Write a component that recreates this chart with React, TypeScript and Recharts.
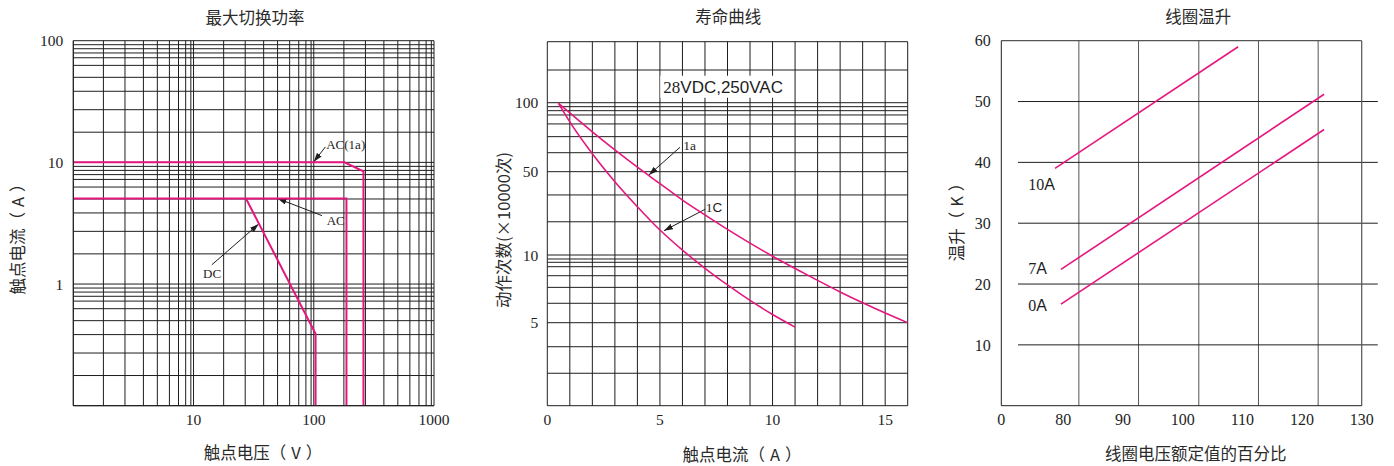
import React from 'react';
import { LineChart, Line, XAxis, YAxis, ReferenceLine, ReferenceDot } from 'recharts';

const PINK = '#e5177f';
const INK = '#1e1e1e';
const GRAY = '#555';
const SERIF = '"Liberation Serif", "DejaVu Serif", serif';
const SANS = '"Liberation Sans", Arial, sans-serif';
const CJK = '"Noto Sans CJK SC", "Noto Sans", sans-serif';

// ---------- Panel 1: 最大切换功率 ----------
const p1Title = '最大切换功率';
const p1XTitle = ['触点电压', 'V'];
const p1YTitle = ['触点电流', 'A'];
const p1XTicks = [10, 100, 1000];
const p1YTicks = [1, 10, 100];
const p1XDecades = [1, 10, 100, 1000];
const p1YDecades = [0.1, 1, 10, 100];
const p1XGridSteps = [1.78, 2.69, 3.83, 5.0, 6.3, 7.5, 8.6, 9.5];
const p1YGridSteps = [1.77, 2.71, 3.84, 5.0, 6.27, 7.24, 7.93, 8.59, 9.27];
const acOneAVolt = [1, 180, 259, 259];
const acOneAAmp = [10, 10, 8.45, 0.1];
const acVolt = [1, 187, 187];
const acAmp = [5.05, 5.05, 0.1];
const dcVolt = [27.3, 103.5, 103.5];
const dcAmp = [5.05, 0.39, 0.1];
const p1Notes = [
  { text: 'AC(1a)', lx: 127, ly: 14, fx: 125, fy: 13.4, tx: 100, ty: 10.1 },
  { text: 'AC', lx: 128, ly: 3.35, fx: 117, fy: 3.65, tx: 50, ty: 5.05 },
  { text: 'DC', lx: 12, ly: 1.23, fx: 14.2, fy: 1.44, tx: 34.8, ty: 3.11 },
];

// ---------- Panel 2: 寿命曲线 ----------
const p2Title = '寿命曲线';
const p2XTitle = ['触点电流', 'A'];
const p2YTitle = '动作次数(×10000次)';
const p2XTicks = [0, 5, 10, 15];
const p2XGrid = [1, 2, 3, 4, 5, 6, 7, 8, 9, 10, 11, 12, 13, 14, 15, 16];
const lifeLabelValues = [5, 10, 50, 100];
const lifeLabelHeights = [0.228, 0.414, 0.6429, 0.8324]; // where each labelled value sits on the (non-uniform) printed axis
const lifeGridValues = [2.98, 3.91, 5, 6.1, 7.18, 8.09, 8.87, 9.28, 9.6, 10, 19, 31.9, 50, 60.5, 71.1, 80.8, 88.4, 92.3, 96.1, 100, 138.9];
const life1aCurrent = [0.5, 1.0, 2.0, 3.0, 4.0, 5.0, 6.0, 7.0, 8.0, 9.0, 10.0, 11.0, 12.0, 13.0, 14.0, 15.0, 16.0];
const life1aCycles = [99.4, 90.2, 74.6, 62.2, 52.3, 39.7, 28.9, 21.7, 16.4, 12.57, 9.88, 8.71, 7.71, 6.85, 6.13, 5.52, 5.0];
const life1cCurrent = [0.5, 1.0, 1.9, 3.0, 4.0, 5.0, 6.0, 7.0, 8.0, 9.0, 10.0, 11.0];
const life1cCycles = [99.4, 82.5, 61.7, 41.2, 25.4, 16.2, 11.0, 8.73, 7.36, 6.28, 5.44, 4.78];
const p2Notes = [
  { text: ['1', 'a'], lx: 6.04, ly: 65.3, fx: 5.89, fy: 63.9, tx: 4.51, ty: 46.9 },
  { text: ['1', 'C'], lx: 7.03, ly: 25.4, fx: 7.01, fy: 24.2, tx: 5.18, ty: 16.0 },
];
const p2Condition = { serif: '28', sans: 'VDC,250VAC', x: 5.15, y: 117.4 };

// ---------- Panel 3: 线圈温升 ----------
const p3Title = '线圈温升';
const p3XTitle = '线圈电压额定值的百分比';
const p3YTitle = ['温升', 'K'];
const p3XMin = 69.6;
const p3XTicks = [69.6, 80, 90, 100, 110, 120, 130];
const p3YTicks = [10, 20, 30, 40, 50, 60];
const p3VGrid = [82.6, 92.6, 102.7, 112.7, 122.7];
const p3HGrid = [10, 20, 30, 40, 50];
const p3HGridFrom = 72.4;
const p3HGridTo = 132.7;
const heat10APct = [78.6, 109.3];
const heat10ARise = [39, 59];
const heat7APct = [79.6, 123.7];
const heat7ARise = [22.4, 51.2];
const heat0APct = [79.6, 123.7];
const heat0ARise = [16.7, 45.4];
const p3Labels = [
  { num: '10', x: 74.1, y: 36.4 },
  { num: '7', x: 74.1, y: 22.6 },
  { num: '0', x: 74.1, y: 16.55 },
];

// ---------- helpers ----------
const zip = (xs: number[], ys: number[]) => xs.map((x, i) => ({ x, y: ys[i] }));

const toT = (v: number) => {
  const L = Math.log10;
  const i = v <= 10 ? 0 : v <= 50 ? 1 : 2;
  const v0 = lifeLabelValues[i], v1 = lifeLabelValues[i + 1];
  const t0 = lifeLabelHeights[i], t1 = lifeLabelHeights[i + 1];
  return t0 + ((t1 - t0) * (L(v) - L(v0))) / (L(v1) - L(v0));
};
const zipT = (xs: number[], ys: number[]) => xs.map((x, i) => ({ x, y: toT(ys[i]) }));

const p1XGrid = p1XDecades.slice(0, -1).flatMap((d) => [d, ...p1XGridSteps.map((s) => s * d)]).concat([1000]);
const p1YGrid = p1YDecades.slice(0, -1).flatMap((d) => [d, ...p1YGridSteps.map((s) => s * d)]).concat([100]);

const HtmlText = ({ x, y, text, rotate = false, size = 16.5 }: any) => (
  <div
    style={{
      position: 'absolute',
      left: x,
      top: y,
      transform: `translate(-50%, -50%)${rotate ? ' rotate(-90deg)' : ''}`,
      whiteSpace: 'nowrap',
      fontFamily: CJK,
      fontSize: size,
      lineHeight: 1,
      color: '#2a2a2a',
    }}
  >
    {Array.isArray(text) ? (
      <>
        {text[0]}（<span style={{ margin: '0 5px' }}>{text[1]}</span>）
      </>
    ) : (
      text
    )}
  </div>
);

const arrowShape = (p: any) => (
  <line x1={p.x1} y1={p.y1} x2={p.x2} y2={p.y2} stroke={INK} strokeWidth={1} markerEnd="url(#arrowHead)" />
);

const tickStyle = (size: number) => ({ fontFamily: SERIF, fontSize: size, fill: INK });

const Panel1 = () => (
  <div style={{ position: 'absolute', left: 0, top: 0 }}>
    <LineChart width={470} height={466} margin={{ top: 40.7, right: 36, bottom: 0, left: 0 }}>
      <XAxis type="number" dataKey="x" scale="log" domain={[1, 1000]} allowDataOverflow ticks={p1XTicks} interval={0}
        height={60.3} tickLine={false} tickSize={0} tickMargin={8} axisLine={{ stroke: INK }} tick={tickStyle(15.5)} />
      <YAxis type="number" dataKey="y" scale="log" domain={[0.1, 100]} allowDataOverflow ticks={p1YTicks} interval={0}
        width={73.3} tickLine={false} tickSize={0} tickMargin={10} axisLine={{ stroke: INK }} tick={tickStyle(15.5)} />
      {p1XGrid.map((v) => (
        <ReferenceLine key={'vx' + v} x={v} stroke={INK} strokeWidth={1} ifOverflow="visible" />
      ))}
      {p1YGrid.map((v) => (
        <ReferenceLine key={'hy' + v} y={v} stroke={INK} strokeWidth={1} ifOverflow="visible" />
      ))}
      {p1Notes.map((n) => (
        <ReferenceLine key={'ar' + n.text} segment={[{ x: n.fx, y: n.fy }, { x: n.tx, y: n.ty }]} ifOverflow="visible" shape={arrowShape} />
      ))}
      {p1Notes.map((n) => (
        <ReferenceDot key={'lb' + n.text} x={n.lx} y={n.ly} r={0} ifOverflow="visible"
          shape={(p: any) => (
            <text x={p.cx} y={p.cy} dominantBaseline="central" fontFamily={SERIF} fontSize={13} fill={INK}>{n.text}</text>
          )} />
      ))}
      <Line data={zip(acOneAVolt, acOneAAmp)} dataKey="y" type="linear" stroke={PINK} strokeWidth={2} dot={false} isAnimationActive={false} />
      <Line data={zip(acVolt, acAmp)} dataKey="y" type="linear" stroke={PINK} strokeWidth={2} dot={false} isAnimationActive={false} />
      <Line data={zip(dcVolt, dcAmp)} dataKey="y" type="linear" stroke={PINK} strokeWidth={2} dot={false} isAnimationActive={false} />
    </LineChart>
  </div>
);

const Panel2 = () => (
  <div style={{ position: 'absolute', left: 490, top: 0 }}>
    <LineChart width={440} height={466} margin={{ top: 41.7, right: 22.3, bottom: 0, left: 0 }}>
      <XAxis type="number" dataKey="x" domain={[0, 16]} allowDataOverflow ticks={p2XTicks} interval={0}
        height={60.3} tickLine={false} tickSize={0} tickMargin={8} axisLine={{ stroke: INK }} tick={tickStyle(15.5)} />
      <YAxis type="number" dataKey="y" domain={[0, 1]} allowDataOverflow ticks={lifeLabelValues.map(toT)} interval={0}
        tickFormatter={(v: number) => {
          const i = lifeLabelValues.findIndex((l) => Math.abs(toT(l) - v) < 1e-6);
          return i >= 0 ? String(lifeLabelValues[i]) : '';
        }}
        width={57.3} tickLine={false} tickSize={0} tickMargin={9} axisLine={{ stroke: INK }} tick={tickStyle(15.5)} />
      {p2XGrid.map((v) => (
        <ReferenceLine key={'vx' + v} x={v} stroke={INK} strokeWidth={1} ifOverflow="visible" />
      ))}
      {lifeGridValues.map((v) => (
        <ReferenceLine key={'hy' + v} y={toT(v)} stroke={INK} strokeWidth={1} ifOverflow="visible" />
      ))}
      <ReferenceLine y={1} stroke={INK} strokeWidth={1} ifOverflow="visible" />
      <ReferenceDot x={p2Condition.x} y={toT(p2Condition.y)} r={0} ifOverflow="visible"
        shape={(p: any) => (
          <g>
            <rect x={p.cx - 3} y={p.cy - 11} width={128} height={22} fill="#fff" />
            <text x={p.cx} y={p.cy} dominantBaseline="central" fontSize={17} fill={INK}>
              <tspan fontFamily={SERIF}>{p2Condition.serif}</tspan>
              <tspan fontFamily={SANS}>{p2Condition.sans}</tspan>
            </text>
          </g>
        )} />
      {p2Notes.map((n) => (
        <ReferenceLine key={'ar' + n.text.join('')} segment={[{ x: n.fx, y: toT(n.fy) }, { x: n.tx, y: toT(n.ty) }]} ifOverflow="visible" shape={arrowShape} />
      ))}
      {p2Notes.map((n) => (
        <ReferenceDot key={'lb' + n.text.join('')} x={n.lx} y={toT(n.ly)} r={0} ifOverflow="visible"
          shape={(p: any) => (
            <text x={p.cx} y={p.cy} dominantBaseline="central" fontSize={13.5} fill={INK}>
              <tspan fontFamily={SERIF}>{n.text[0]}</tspan>
              <tspan fontFamily={n.text[1] === 'C' ? SANS : SERIF}>{n.text[1]}</tspan>
            </text>
          )} />
      ))}
      <Line data={zipT(life1aCurrent, life1aCycles)} dataKey="y" type="monotone" stroke={PINK} strokeWidth={1.6} dot={false} isAnimationActive={false} />
      <Line data={zipT(life1cCurrent, life1cCycles)} dataKey="y" type="monotone" stroke={PINK} strokeWidth={1.6} dot={false} isAnimationActive={false} />
    </LineChart>
  </div>
);

const Panel3 = () => (
  <div style={{ position: 'absolute', left: 940, top: 0 }}>
    <LineChart width={454} height={466} margin={{ top: 40.7, right: 32.3, bottom: 0, left: 0 }}>
      <XAxis type="number" dataKey="x" domain={[p3XMin, 130]} allowDataOverflow ticks={p3XTicks} interval={0}
        tickFormatter={(v: number) => (v === p3XMin ? '0' : String(v))}
        height={60.3} tickLine={false} tickSize={0} tickMargin={8} axisLine={{ stroke: INK }} tick={tickStyle(16)} />
      <YAxis type="number" dataKey="y" domain={[0, 60]} allowDataOverflow ticks={p3YTicks} interval={0}
        width={61.3} tickLine={false} tickSize={0} tickMargin={10.5} axisLine={{ stroke: INK }} tick={tickStyle(16)} />
      {p3VGrid.map((v) => (
        <ReferenceLine key={'vx' + v} x={v} stroke={GRAY} strokeWidth={1} ifOverflow="visible" />
      ))}
      {p3HGrid.map((v) => (
        <ReferenceLine key={'hy' + v} segment={[{ x: p3HGridFrom, y: v }, { x: p3HGridTo, y: v }]} stroke={INK} strokeWidth={1} ifOverflow="visible" />
      ))}
      <ReferenceLine y={60} stroke={GRAY} strokeWidth={1.2} ifOverflow="visible" />
      <ReferenceLine x={130} stroke={GRAY} strokeWidth={1.2} ifOverflow="visible" />
      {p3Labels.map((l) => (
        <ReferenceDot key={'lb' + l.num} x={l.x} y={l.y} r={0} ifOverflow="visible"
          shape={(p: any) => (
            <text x={p.cx} y={p.cy} dominantBaseline="central" fontSize={16} fill={INK}>
              <tspan fontFamily={SERIF}>{l.num}</tspan>
              <tspan fontFamily={SANS}>A</tspan>
            </text>
          )} />
      ))}
      <Line data={zip(heat10APct, heat10ARise)} dataKey="y" type="linear" stroke={PINK} strokeWidth={1.6} dot={false} isAnimationActive={false} />
      <Line data={zip(heat7APct, heat7ARise)} dataKey="y" type="linear" stroke={PINK} strokeWidth={1.6} dot={false} isAnimationActive={false} />
      <Line data={zip(heat0APct, heat0ARise)} dataKey="y" type="linear" stroke={PINK} strokeWidth={1.6} dot={false} isAnimationActive={false} />
    </LineChart>
  </div>
);

export default function App() {
  return (
    <div style={{ position: 'absolute', left: 0, top: 0, width: 1394, height: 466, background: '#fff', overflow: 'hidden' }}>
      <svg width={0} height={0} style={{ position: 'absolute' }}>
        <defs>
          <marker id="arrowHead" markerUnits="userSpaceOnUse" markerWidth={9} markerHeight={6} refX={9} refY={3} orient="auto">
            <path d="M0,0 L9,3 L0,6 z" fill={INK} />
          </marker>
        </defs>
      </svg>
      <Panel1 />
      <Panel2 />
      <Panel3 />
      <HtmlText x={255} y={16.7} text={p1Title} />
      <HtmlText x={263} y={451.7} text={p1XTitle} />
      <HtmlText x={16.7} y={235} text={p1YTitle} rotate />
      <HtmlText x={728.3} y={15.5} text={p2Title} />
      <HtmlText x={742} y={454} text={p2XTitle} />
      <HtmlText x={502.7} y={230} text={p2YTitle} rotate />
      <HtmlText x={1198.3} y={15.7} text={p3Title} />
      <HtmlText x={1195.8} y={453} text={p3XTitle} />
      <HtmlText x={955.7} y={217.5} text={p3YTitle} rotate />
    </div>
  );
}
